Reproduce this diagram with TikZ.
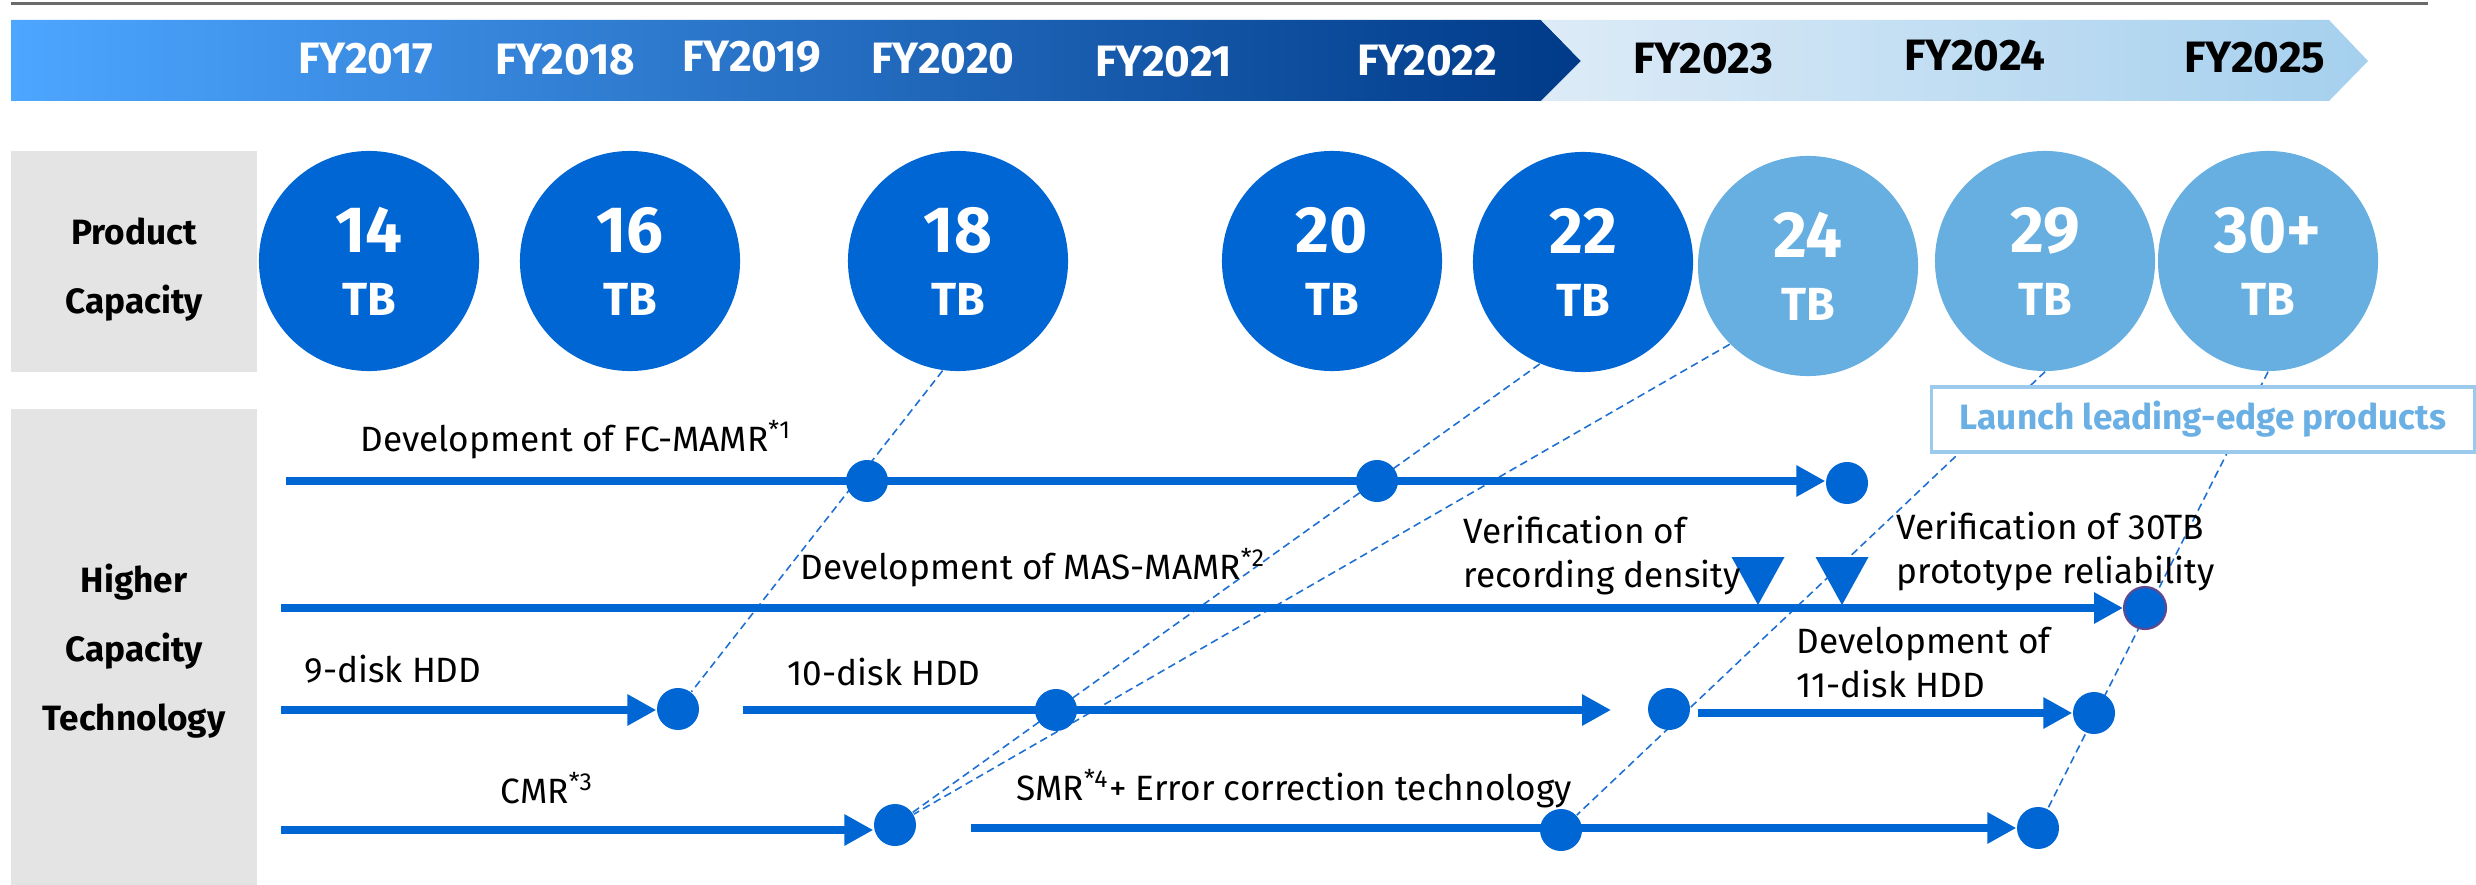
\documentclass[tikz,border=0pt]{standalone}
\usepackage{fontspec}
\setmainfont{Fira Sans}
\usetikzlibrary{arrows.meta, shapes.geometric, backgrounds}

\definecolor{capdark}{HTML}{0066D4}
\definecolor{caplight}{HTML}{66AFE0}
\definecolor{rowgray}{HTML}{E4E4E4}
\definecolor{rulegray}{HTML}{6A6A6A}
\definecolor{bandstart}{HTML}{4DA6FF}
\definecolor{bandmid}{HTML}{0050BE}
\definecolor{bandend}{HTML}{003A88}
\definecolor{fadestart}{HTML}{DDEBF7}
\definecolor{fadeend}{HTML}{A5D0EE}
\definecolor{linkblue}{HTML}{1E6FD2}
\definecolor{launchblue}{HTML}{6AB0E4}
\definecolor{launchedge}{HTML}{9CCAEC}
\definecolor{rimpurple}{HTML}{5E4A8E}

% smaller unit line inside the capacity circles
\newcommand{\tbunit}{\fontsize{13.2}{17.9}\selectfont}

\begin{document}
\begin{tikzpicture}[
  x=0.01cm, y=-0.01cm,
  year/.style={font=\fontsize{12.5}{14}\selectfont\bfseries, text=white},
  capcircle/.style={circle, inner sep=0pt, minimum size=2.2cm, fill=capdark,
              text=white, align=center,
              font=\fontsize{18.6}{17.9}\selectfont\bfseries},
  future/.style={fill=caplight},
  head/.style={rectangle, fill=rowgray, minimum width=2.46cm, align=center,
               font=\fontsize{10}{19.7}\selectfont\bfseries},
  dot/.style={circle, inner sep=0pt, minimum size=0.42cm, fill=capdark},
  track/.style={draw=capdark, line width=2pt},
  arrow/.style={track, -{Triangle[length=8.2pt, width=8.4pt]}},
  link/.style={draw=linkblue, line width=0.45pt, dash pattern=on 2.2pt off 1.3pt},
  note/.style={inner sep=0pt, anchor=base west, align=left,
               font=\fontsize{10}{12.5}\selectfont},
  launch/.style={rectangle, draw=launchedge, fill=white, line width=0.9pt,
                 minimum width=5.42cm, minimum height=0.65cm,
                 text=launchblue, font=\bfseries},
]
  \useasboundingbox (0,0) rectangle (2476,885);

  % rule and year band
  \draw[rulegray, line width=0.6pt] (11,3.5) -- (2428,3.5);
  \shade[left color=bandstart, middle color=bandmid, right color=bandend]
    (11,20) -- (1541,20) -- (1581,61) -- (1541,101) -- (11,101) -- cycle;
  \shade[left color=fadestart, right color=fadeend]
    (1541,20) -- (2329,20) -- (2368,61) -- (2329,101) -- (1541,101) -- (1581,61) -- cycle;

  \node[year] (fy17) at (366,59) {FY2017};
  \node[year] (fy18) at (565,60) {FY2018};
  \node[year] (fy19) at (752,57) {FY2019};
  \node[year] (fy20) at (943,59) {FY2020};
  \node[year] (fy21) at (1164,62) {FY2021};
  \node[year] (fy22) at (1427,61) {FY2022};
  \node[year, text=black] (fy23) at (1703,59) {FY2023};
  \node[year, text=black] (fy24) at (1975,56) {FY2024};
  \node[year, text=black] (fy25) at (2255,58) {FY2025};

  % row headings (the rule pushes the text a little lower in the box)
  \node[head, minimum height=2.21cm] (prodHead) at (134,261.5)
    {\rule{0pt}{12.1pt}Product\\Capacity};
  \node[head, minimum height=4.76cm] (techHead) at (134,647)
    {\rule{0pt}{10.5pt}Higher\\Capacity\\Technology};

  % product capacity
  \node[capcircle] (c14) at (369,261) {14\\\tbunit TB};
  \node[capcircle] (c16) at (630,261) {16\\\tbunit TB};
  \node[capcircle] (c18) at (958,261) {18\\\tbunit TB};
  \node[capcircle] (c20) at (1332,261) {20\\\tbunit TB};
  \node[capcircle] (c22) at (1583,262) {22\\\tbunit TB};
  \node[capcircle, future] (c24) at (1808,266) {24\\\tbunit TB};
  \node[capcircle, future] (c29) at (2045,261) {29\\\tbunit TB};
  \node[capcircle, future] (c30) at (2268,261) {30+\\\tbunit TB};

  % milestones on the technology tracks
  \node[dot] (fc1) at (867,481) {};
  \node[dot] (fc2) at (1377,481) {};
  \node[dot] (fcEnd) at (1847,483) {};
  \node[dot, draw=rimpurple, line width=0.6pt] (masEnd) at (2145,608) {};
  \node[dot] (hdd9) at (678,709) {};
  \node[dot] (hdd10) at (1056,710) {};
  \node[dot] (hdd10end) at (1669,709) {};
  \node[dot] (hdd11) at (2094,713) {};
  \node[dot] (cmr) at (895,825) {};
  \node[dot] (smr) at (1561,830) {};
  \node[dot] (smrEnd) at (2038,828) {};

  \coordinate (fcStart) at (286,481);
  \coordinate (masStart) at (281,608);
  \coordinate (hddStart) at (281,710);
  \coordinate (tenStart) at (743,710);
  \coordinate (tenTip) at (1611,710);
  \coordinate (elevenStart) at (1698,713);
  \coordinate (cmrStart) at (281,830);
  \coordinate (smrStart) at (971,828);

  \draw[arrow] (fcStart) -- (fcStart -| fcEnd.west);
  \draw[arrow] (masStart) -- (masStart -| masEnd.west);
  \draw[arrow] (hddStart) -- (hddStart -| hdd9.west);
  \draw[arrow] (tenStart) -- (tenTip);
  \draw[arrow] (elevenStart) -- (elevenStart -| hdd11.west);
  \draw[arrow] (cmrStart) -- (cmrStart -| cmr.west);
  \draw[arrow] (smrStart) -- (smrStart -| smrEnd.west);

  % verification marks on the MAS-MAMR track
  \coordinate (chk1) at (1758,605);
  \coordinate (chk2) at (1842,605);
  \fill[capdark] (chk1) -- ++(-26.5,-48) -- ++(53,0) -- cycle;
  \fill[capdark] (chk2) -- ++(-26.5,-48) -- ++(53,0) -- cycle;

  % capacity to technology links
  \begin{pgfonlayer}{background}
    \draw[link] (c18.262) -- (hdd9);
    \draw[link] (c22.247) -- (cmr);
    \draw[link] (c24.225) -- (cmr);
    \draw[link] (c29.south) -- (smr);
    \draw[link] (c30.south) -- (smrEnd);
  \end{pgfonlayer}

  \node[launch] (launch) at (2203,419.5) {Launch leading-edge products};

  % track labels (two-line ones sit on the baseline of their last line)
  \node[note] (fcLabel) at (360,451) {Development of FC-MAMR\textsuperscript{*1}};
  \node[note] (masLabel) at (800,579) {Development of MAS-MAMR\textsuperscript{*2}};
  \node[note] (densLabel) at (1463,587) {Verification of\\recording density};
  \node[note] (protoLabel) at (1896,583) {Verification of 30TB\\prototype reliability};
  \node[note] (hdd9Label) at (304,682) {9-disk HDD};
  \node[note] (hdd10Label) at (787,685) {10-disk HDD};
  \node[note] (hdd11Label) at (1796,697) {Development of\\11-disk HDD};
  \node[note] (cmrLabel) at (500,803) {CMR\textsuperscript{*3}};
  \node[note] (smrLabel) at (1016,800) {SMR\textsuperscript{*4}+ Error correction technology};
\end{tikzpicture}
\end{document}
